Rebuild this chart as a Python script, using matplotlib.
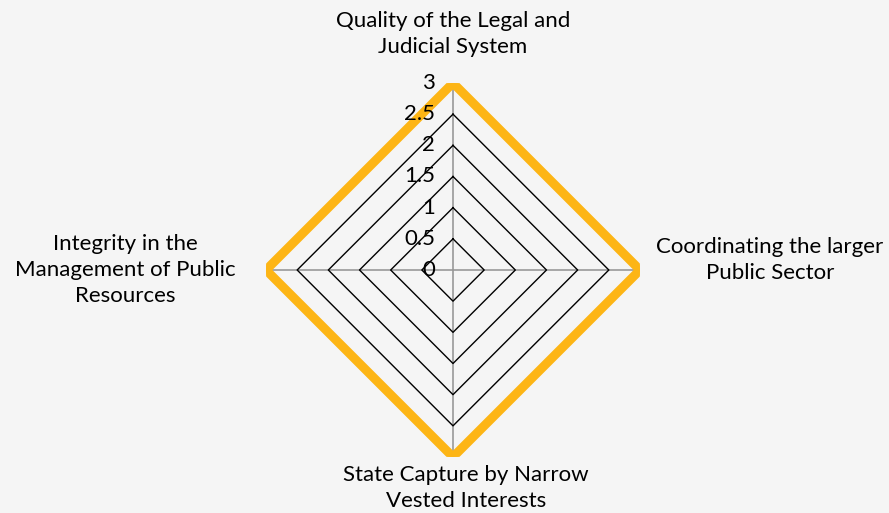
import numpy as np
import matplotlib.pyplot as plt

plt.rcParams['font.family'] = ['Lato', 'DejaVu Sans']

categories = ["Quality of the Legal and\nJudicial System",
              "Coordinating the larger\nPublic Sector",
              "State Capture by Narrow\nVested Interests",
              "Integrity in the\nManagement of Public\nResources"]
values = [3, 3, 3, 3]
levels = [0.5, 1, 1.5, 2, 2.5]
tick_labels = ["0", "0.5", "1", "1.5", "2", "2.5", "3"]

bg = '#f5f5f5'
fig = plt.figure(figsize=(8.89, 5.13), dpi=100, facecolor=bg)
cx, cy, rad = 453 / 889, 1 - 270 / 513, 187
ax = fig.add_axes([cx - rad / 889, cy - rad / 513, 2 * rad / 889, 2 * rad / 513], polar=True)
ax.set_facecolor(bg)
ax.set_theta_offset(np.pi / 2)
ax.set_theta_direction(-1)

n = len(categories)
angles = np.linspace(0, 2 * np.pi, n, endpoint=False)
closed = np.append(angles, angles[0])

# spokes
for a in angles:
    ax.plot([a, a], [0, 3], color='#999999', lw=1.2, zorder=1)

# grid diamonds
for lv in levels:
    ax.plot(closed, [lv] * (n + 1), color='black', lw=1.0, zorder=2)

# data
ax.plot(closed, values + [values[0]], color='#fdb515', lw=6.5, solid_joinstyle='round', zorder=3)

ax.set_ylim(0, 3)
ax.grid(False)
ax.set_xticks([])
ax.set_yticks([])
ax.spines['polar'].set_visible(False)

# r tick labels along the top spoke
for i, t in enumerate(tick_labels):
    r = i * 0.5
    ax.annotate(t, xy=(0, r), xytext=(-13, 0), textcoords='offset points',
                ha='right', va='center', fontsize=16, zorder=4)

# category labels
kw = dict(ha='center', va='center', fontsize=16, linespacing=1.38)
fig.text(453 / 889, 1 - 34 / 513, categories[0], **kw)
fig.text(770 / 889, 1 - 260 / 513, categories[1], **kw)
fig.text(466 / 889, 1 - 488 / 513, categories[2], **kw)
fig.text(125 / 889, 1 - 270 / 513, categories[3], **kw)

fig.savefig('out.png', dpi=100, facecolor=bg)
